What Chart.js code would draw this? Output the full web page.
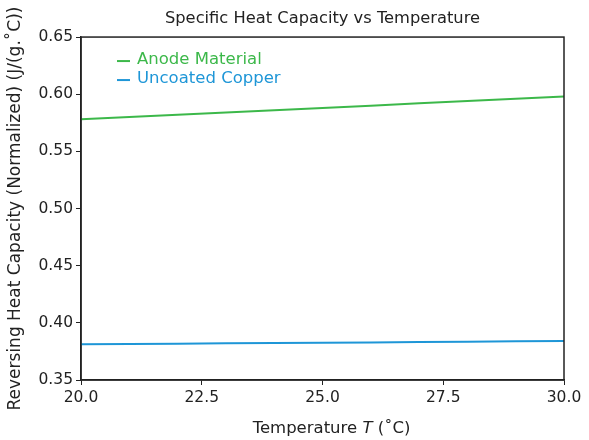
<!DOCTYPE html>
<html><head><meta charset="utf-8">
<script src="https://cdn.jsdelivr.net/npm/chart.js@4"></script>
<style>html,body{margin:0;padding:0;background:#fff}#wrap{width:589px;height:440px}</style>
</head><body><div id="wrap"><canvas id="c" width="589" height="440"></canvas></div>
<script>
const temperatures = [20, 21, 22, 23, 24, 25, 26, 27, 28, 29, 30];
const anodeMaterial = [0.578, 0.580, 0.582, 0.584, 0.586, 0.588, 0.590, 0.592, 0.594, 0.596, 0.598];
const uncoatedCopper = [0.3812, 0.3815, 0.3818, 0.3821, 0.3824, 0.3826, 0.3829, 0.3832, 0.3835, 0.3838, 0.3841];
const seriesLabels = ['Anode Material', 'Uncoated Copper'];
const seriesColors = ['#3cb84a', '#1e96d7'];
const xTicks = [20.0, 22.5, 25.0, 27.5, 30.0];
const yTicks = [0.35, 0.40, 0.45, 0.50, 0.55, 0.60, 0.65];
const xTitleParts = ['Temperature ', 'T', ' (˚C)'];
const FONT = '"DejaVu Sans", sans-serif';

const boxPlugin = {
  id: 'box',
  afterDraw(chart) {
    const {ctx, chartArea: a} = chart;
    ctx.save();
    ctx.strokeStyle = '#222';
    ctx.lineWidth = 1.5;
    ctx.strokeRect(a.left, a.top, a.right - a.left, a.bottom - a.top);
    // legend inside
    ctx.font = '16.5px ' + FONT;
    ctx.textBaseline = 'middle';
    chart.data.datasets.forEach((ds, i) => {
      const y = a.top + 23 + i * 19;
      const x0 = a.left + 36;
      ctx.strokeStyle = ds.borderColor;
      ctx.lineWidth = 2;
      ctx.beginPath(); ctx.moveTo(x0, y + 1); ctx.lineTo(x0 + 13, y + 1); ctx.stroke();
      ctx.fillStyle = ds.borderColor;
      ctx.fillText(ds.label, x0 + 20, y);
    });
    // x axis title with italic T
    const fonts = ['16.5px ' + FONT, 'italic 16.5px ' + FONT, '16.5px ' + FONT];
    let total = 0;
    const widths = xTitleParts.map((p, i) => { ctx.font = fonts[i]; const w = ctx.measureText(p).width; total += w; return w; });
    let x = (a.left + a.right) / 2 + 9 - total / 2;
    ctx.fillStyle = '#222';
    ctx.textAlign = 'left';
    xTitleParts.forEach((p, i) => { ctx.font = fonts[i]; ctx.fillText(p, x, 429); x += widths[i]; });
    ctx.restore();
  }
};

new Chart(document.getElementById('c'), {
  type: 'line',
  data: {
    datasets: [
      {label: seriesLabels[0], data: temperatures.map((t, i) => ({x: t, y: anodeMaterial[i]})), borderColor: seriesColors[0], borderWidth: 2, pointRadius: 0, tension: 0},
      {label: seriesLabels[1], data: temperatures.map((t, i) => ({x: t, y: uncoatedCopper[i]})), borderColor: seriesColors[1], borderWidth: 2, pointRadius: 0, tension: 0}
    ]
  },
  options: {
    responsive: false,
    animation: false,
    layout: {padding: {top: 0, right: 25, bottom: 0, left: 0}},
    plugins: {
      legend: {display: false},
      tooltip: {enabled: false},
      title: {display: true, fullSize: false, text: 'Specific Heat Capacity vs Temperature', color: '#222', font: {family: FONT, size: 16.3, weight: 'normal'}, padding: {top: 8.5, bottom: 9}}
    },
    scales: {
      x: {
        type: 'linear', min: 20, max: 30,
        afterBuildTicks: s => { s.ticks = xTicks.map(v => ({value: v})); },
        afterFit: s => { s.height = 60; },
        ticks: {color: '#222', font: {family: FONT, size: 15.5}, padding: 4, callback: v => v.toFixed(1), maxRotation: 0},
        grid: {drawOnChartArea: false, drawTicks: true, tickLength: 5, color: '#222'},
        border: {display: true, color: '#222', width: 1.5},
        title: {display: false}
      },
      y: {
        min: 0.35, max: 0.65,
        afterBuildTicks: s => { s.ticks = yTicks.map(v => ({value: v})); },
        afterFit: s => { s.width = 81; },
        ticks: {color: '#222', font: {family: FONT, size: 15.5}, padding: 3, callback: v => v.toFixed(2)},
        grid: {drawOnChartArea: false, drawTicks: true, tickLength: 5, color: '#222'},
        border: {display: true, color: '#222', width: 1.5},
        title: {display: true, text: 'Reversing Heat Capacity (Normalized) (J/(g.˚C))', color: '#222', font: {family: FONT, size: 17}, padding: {top: 5, bottom: 0}}
      }
    }
  },
  plugins: [boxPlugin]
});
</script></body></html>
